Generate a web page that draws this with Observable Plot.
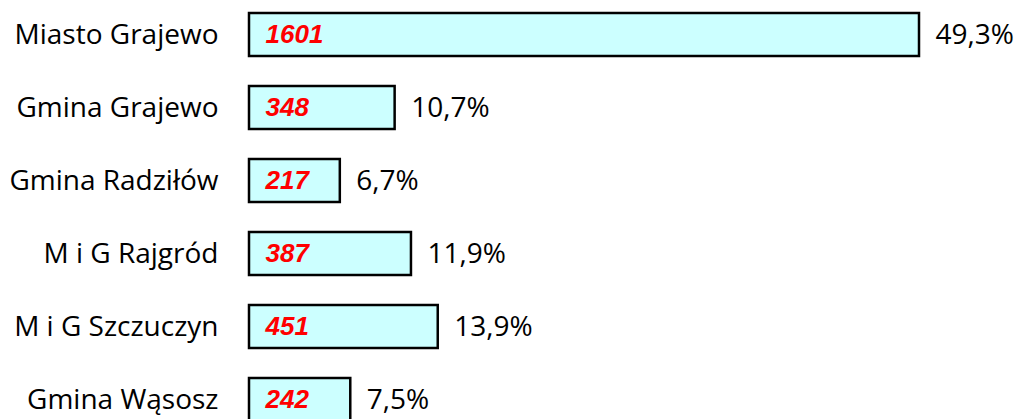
<!DOCTYPE html>
<html><head><meta charset="utf-8">
<script src="https://cdn.jsdelivr.net/npm/d3@7"></script>
<script src="https://cdn.jsdelivr.net/npm/@observablehq/plot@0.6"></script>
<style>html,body{margin:0;padding:0;background:#fff;overflow:hidden}</style>
</head><body><div id="chart"></div>
<script>
const categories = ["Miasto Grajewo","Gmina Grajewo","Gmina Radziłów","M i G Rajgród","M i G Szczuczyn","Gmina Wąsosz"];
const values = [1601, 348, 217, 387, 451, 242];
const percents = [49.3, 10.7, 6.7, 11.9, 13.9, 7.5];

const data = categories.map((c, i) => ({category: c, value: values[i], pct: percents[i]}));
const font = "'Open Sans', sans-serif";

const chart = Plot.plot({
  width: 1016, height: 419,
  marginLeft: 249, marginRight: 97, marginTop: 0, marginBottom: 0,
  style: {fontFamily: font, fontSize: "28px", background: "#fff", color: "#000", overflow: "hidden"},
  x: {domain: [0, 1601], range: [249, 919], axis: null},
  y: {domain: categories, range: [10, 424], paddingInner: 0.405, paddingOuter: 0, axis: null},
  marks: [
    Plot.barX(data, {x: "value", y: "category", fill: "#CCFFFF", stroke: "#000", strokeWidth: 2.5}),
    Plot.axisY({tickSize: 0, tickPadding: 31, fontSize: 28, fill: "#000", label: null}),
    Plot.text(data, {x: 0, y: "category", text: d => String(d.value), dx: 16, textAnchor: "start",
      fill: "#FF0000", fontWeight: "bold", fontStyle: "italic", fontSize: 26,
      fontFamily: "'Liberation Sans', Arial, sans-serif"}),
    Plot.text(data, {x: "value", y: "category", text: d => d.pct.toFixed(1).replace(".", ",") + "%",
      dx: 16, textAnchor: "start", fill: "#000", fontSize: 28})
  ]
});
document.getElementById("chart").appendChild(chart);
</script>
</body></html>
